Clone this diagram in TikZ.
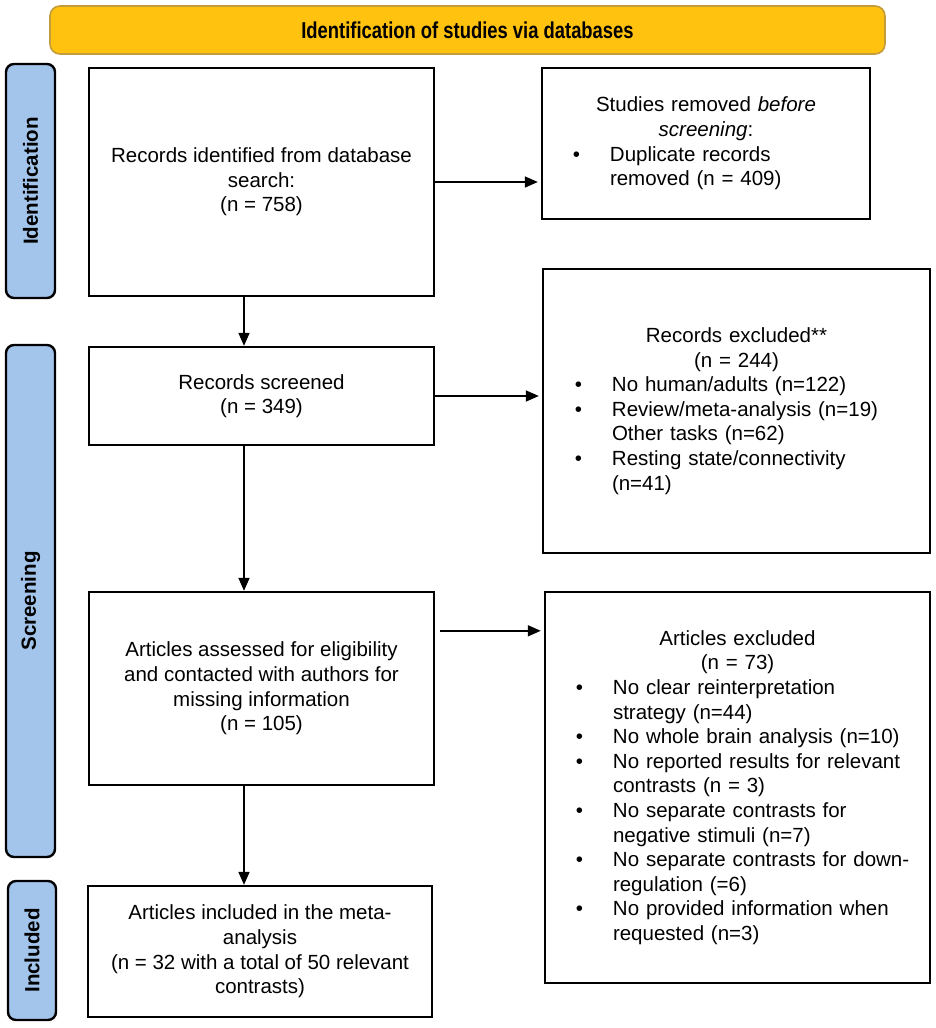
\documentclass[tikz,border=0pt]{standalone}
\usepackage{fontspec}
\setmainfont{Liberation Sans}
\usetikzlibrary{arrows.meta}
\definecolor{bannerfill}{RGB}{255,194,14}
\definecolor{bannerdraw}{RGB}{196,156,58}
\definecolor{phasefill}{RGB}{163,196,235}
\newcommand\bl{\leavevmode\llap{\textbullet\hspace{30pt}}}
\tikzset{
  box/.style={draw=black, line width=2.4pt, fill=white, inner sep=0pt,
    font=\fontsize{20.5}{24.6}\selectfont},
  cbox/.style={box, align=center},
  phase/.style={draw=black, line width=2.4pt, fill=phasefill, rounded corners=8pt,
    rotate=90, inner sep=0pt, font=\fontsize{20.5}{24}\selectfont\bfseries},
  banner/.style={draw=bannerdraw, line width=1.6pt, fill=bannerfill, rounded corners=10pt,
    inner sep=0pt, font=\fontsize{23}{26}\selectfont\bfseries},
  arr/.style={-{Triangle[length=13pt,width=11pt]}, line width=1.6pt}
}
\begin{document}
\begin{tikzpicture}[x=1pt,y=-1pt]
\useasboundingbox (0,0) rectangle (935,1028);
% banner
\node[banner, minimum width=835pt, minimum height=48pt] (ban) at (467.5,30)
  {\scalebox{0.8}[1]{Identification of studies via databases}};
% phase labels
\node[phase, minimum width=234pt, minimum height=49pt] (pid) at (30.5,181) {Identification};
\node[phase, minimum width=512pt, minimum height=49pt] (pscr) at (30.5,601) {Screening};
\node[phase, minimum width=139pt, minimum height=48pt] (pinc) at (32,950.5) {Included};
% left column
\node[cbox, minimum width=345pt, minimum height=228pt] (ident) at (261.5,182)
  {Records identified from database\\search:\\(n = 758)};
\node[cbox, minimum width=345pt, minimum height=98pt] (screen) at (261.5,396)
  {Records screened\\(n = 349)};
\node[cbox, minimum width=345pt, minimum height=193pt] (assess) at (261.5,688.5)
  {Articles assessed for eligibility\\and contacted with authors for\\missing information\\(n = 105)};
\node[cbox, minimum width=344pt, minimum height=131pt] (incl) at (260,951.5)
  {Articles included in the meta-\\analysis\\(n = 32 with a total of 50 relevant\\contrasts)};
% right column
\node[box, minimum width=328pt, minimum height=151pt, text width=300pt] (removed) at (706,143.5)
  {\centering Studies removed \textit{before}\\\textit{screening}:\par
   \raggedright\leftskip=54pt
   \bl Duplicate records\\
   removed (n = 409)\par};
\node[box, minimum width=387pt, minimum height=284pt, text width=340pt] (recex) at (736.5,411)
  {\centering Records excluded**\\(n = 244)\par
   \raggedright\leftskip=45.5pt
   \bl No human/adults (n=122)\\
   \bl Review/meta-analysis (n=19)\\
   Other tasks (n=62)\\
   \bl Resting state/connectivity\\
   (n=41)\par};
\node[box, minimum width=385pt, minimum height=391pt, text width=345pt] (artex) at (737.5,787.5)
  {\centering Articles excluded\\(n = 73)\par
   \raggedright\leftskip=48pt
   \bl No clear reinterpretation\\
   strategy (n=44)\\
   \bl No whole brain analysis (n=10)\\
   \bl No reported results for relevant\\
   contrasts (n = 3)\\
   \bl No separate contrasts for\\
   negative stimuli (n=7)\\
   \bl No separate contrasts for down-\\
   regulation (=6)\\
   \bl No provided information when\\
   requested (n=3)\par};
% connectors
\coordinate (ax) at (244,0);
\draw[arr] (ident.south -| ax) -- (screen.north -| ax);
\draw[arr] (screen.south -| ax) -- (assess.north -| ax);
\draw[arr] (assess.south -| ax) -- (incl.north -| ax);
\draw[arr, shorten >=3pt] (ident.east) -- (ident.east -| removed.west);
\draw[arr, shorten >=3pt] (screen.east) -- (screen.east -| recex.west);
\coordinate (aa) at ([yshift=-40pt]assess.north east);
\draw[arr, shorten <=5pt, shorten >=3pt] (aa) -- (aa -| artex.west);
\end{tikzpicture}
\end{document}
